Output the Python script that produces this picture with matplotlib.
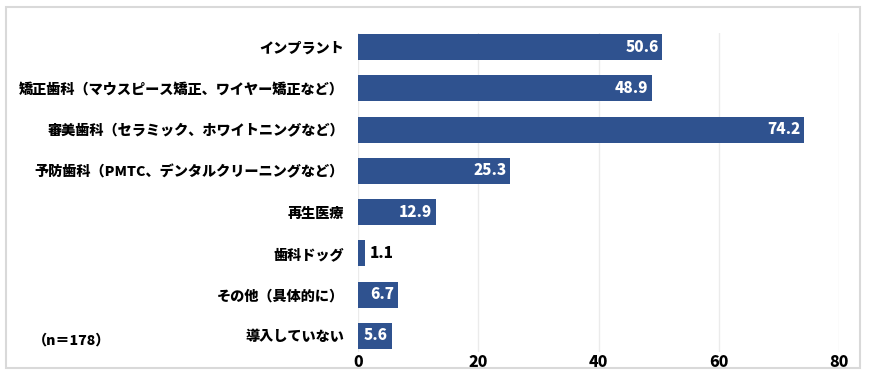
import matplotlib.pyplot as plt
from matplotlib.patches import Rectangle

plt.rcParams['font.family'] = ['Noto Sans CJK JP', 'DejaVu Sans']

labels = ['インプラント',
          '矯正歯科（マウスピース矯正、ワイヤー矯正など）',
          '審美歯科（セラミック、ホワイトニングなど）',
          '予防歯科（PMTC、デンタルクリーニングなど）',
          '再生医療',
          '歯科ドッグ',
          'その他（具体的に）',
          '導入していない']
values = [50.6, 48.9, 74.2, 25.3, 12.9, 1.1, 6.7, 5.6]
xticks = [0, 20, 40, 60, 80]

fig = plt.figure(figsize=(8.69, 3.74), dpi=100)
# outer frame
fig.patches.append(Rectangle((6 / 869, 1 - 368 / 374), 854 / 869, 361 / 374,
                             transform=fig.transFigure, fill=False,
                             edgecolor='#d9d9d9', linewidth=1.5))

ax = fig.add_axes([358 / 869, 1 - 352 / 374, 481 / 869, 319 / 374])
y = list(range(len(labels)))
ax.barh(y, values, height=0.63, color='#2f528f', zorder=3)

for i, v in enumerate(values):
    if v > 3:
        ax.text(v - 0.6, i, f'{v:.1f}', ha='right', va='center',
                color='white', fontsize=11, fontweight='heavy', zorder=4)
    else:
        ax.text(v + 0.8, i, f'{v:.1f}', ha='left', va='center',
                color='black', fontsize=11, fontweight='heavy', zorder=4)

ax.set_xlim(0, 80)
ax.set_ylim(7.39, -0.34)
ax.set_yticks(y)
ax.set_yticklabels(labels, fontsize=10.2, fontweight='heavy')
ax.set_xticks(xticks)
ax.set_xticklabels([str(t) for t in xticks], fontsize=11.5, fontweight='heavy')
ax.tick_params(length=0)
ax.tick_params(axis='y', pad=10)
ax.tick_params(axis='x', pad=2)
ax.grid(axis='x', color='#ebebeb', linewidth=1, zorder=0)
for s in ax.spines.values():
    s.set_visible(False)

fig.text(33 / 869, 1 - 341 / 374, '（n＝178）', ha='left', va='center',
         fontsize=10.2, fontweight='heavy')

fig.savefig('out.png', dpi=100)
